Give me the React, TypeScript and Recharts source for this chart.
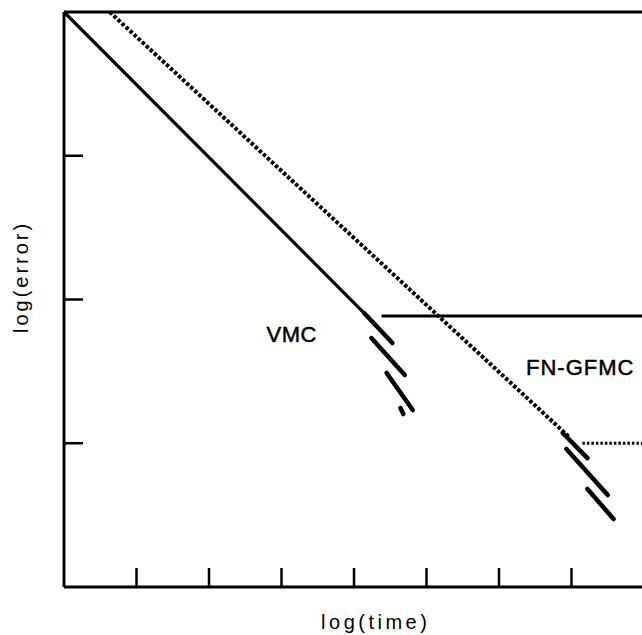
import React from 'react';
import { LineChart, Line, XAxis, YAxis, ReferenceLine, ReferenceDot } from 'recharts';

// axis ticks (log scale units, no labels in the original)
const xTicks = [1, 2, 3, 4, 5, 6, 7, 8];
const yTicks = [1, 2, 3];

// VMC: straight fall, then the floor it can't get below
const vmcLine = [[0, 4.0], [4.14, 1.906]];
const vmcPlateau = [[4.38, 1.885], [8.8, 1.885]];
const vmcTail = [
  [[4.14, 1.906], [4.53, 1.697]],
  [[4.24, 1.732], [4.70, 1.475]],
  [[4.45, 1.489], [4.81, 1.231]],
  [[4.64, 1.245], [4.68, 1.203]],
];

// FN-GFMC: dotted fall, then its own floor
const gfmcLine = [[0.63, 4.0], [6.97, 1.043]];
const gfmcPlateau = [[7.15, 1.0], [8.8, 1.0]];
const gfmcTail = [
  [[6.88, 1.071], [7.22, 0.897]],
  [[6.93, 0.96], [7.5, 0.64]],
  [[7.22, 0.682], [7.58, 0.473]],
];

const toPoints = (pairs: number[][]) => pairs.map(([x, y]) => ({ x, y }));
const toSegments = (segs: number[][][]) =>
  segs.flatMap((s) => [...toPoints(s), { x: s[1][0], y: null as number | null }]);

const font = "'Liberation Sans', Arial, sans-serif";
const ink = '#000';
// inward tick length, in axis units (~19px)
const xTickLen = 19 / 143.75;
const yTickLen = 19 / 72.5;

export default function App() {
  return (
    <div style={{ position: 'absolute', left: 0, top: 0, width: 642, height: 635, overflow: 'hidden', background: '#fff' }}>
      <LineChart width={702} height={635} margin={{ top: 12, right: 0, bottom: 48, left: 64 }}>
        <XAxis type="number" dataKey="x" domain={[0, 8.8]} ticks={xTicks} hide />
        <YAxis type="number" dataKey="y" domain={[0, 4]} ticks={yTicks} hide />

        {/* frame: left, bottom, top */}
        <ReferenceLine x={0} stroke={ink} strokeWidth={3} ifOverflow="visible" />
        <ReferenceLine y={0} stroke={ink} strokeWidth={3} ifOverflow="visible" />
        <ReferenceLine y={4} stroke={ink} strokeWidth={3} ifOverflow="visible" />
        {xTicks.map((t) => (
          <ReferenceLine key={`xt${t}`} segment={[{ x: t, y: 0 }, { x: t, y: xTickLen }]} stroke={ink} strokeWidth={2.5} ifOverflow="visible" />
        ))}
        {yTicks.map((t) => (
          <ReferenceLine key={`yt${t}`} segment={[{ x: 0, y: t }, { x: yTickLen, y: t }]} stroke={ink} strokeWidth={2.5} ifOverflow="visible" />
        ))}

        <Line data={toPoints(vmcLine)} dataKey="y" stroke={ink} strokeWidth={3.2} dot={false} activeDot={false} isAnimationActive={false} />
        <Line data={toPoints(vmcPlateau)} dataKey="y" stroke={ink} strokeWidth={3} dot={false} activeDot={false} isAnimationActive={false} />
        <Line data={toSegments(vmcTail)} dataKey="y" stroke={ink} strokeWidth={4.5} strokeLinecap="round" dot={false} activeDot={false} isAnimationActive={false} />

        <Line data={toPoints(gfmcLine)} dataKey="y" stroke={ink} strokeWidth={4} strokeDasharray="3.5 2" dot={false} activeDot={false} isAnimationActive={false} />
        <Line data={toPoints(gfmcPlateau)} dataKey="y" stroke={ink} strokeWidth={2.8} strokeDasharray="2.5 2" dot={false} activeDot={false} isAnimationActive={false} />
        <Line data={toSegments(gfmcTail)} dataKey="y" stroke={ink} strokeWidth={4.5} strokeLinecap="round" dot={false} activeDot={false} isAnimationActive={false} />

        <ReferenceDot x={3.14} y={1.76} r={0} fill="none" stroke="none" ifOverflow="visible"
          label={{ value: 'VMC', position: 'center', fontSize: 22, fill: ink, stroke: ink, strokeWidth: 0.5, fontFamily: font, letterSpacing: 0.5 }} />
        <ReferenceDot x={7.12} y={1.53} r={0} fill="none" stroke="none" ifOverflow="visible"
          label={{ value: 'FN-GFMC', position: 'center', fontSize: 22, fill: ink, stroke: ink, strokeWidth: 0.5, fontFamily: font, letterSpacing: 1 }} />
        <ReferenceDot x={4.3} y={-0.24} r={0} fill="none" stroke="none" ifOverflow="visible"
          label={{ value: 'log(time)', position: 'center', fontSize: 20, fill: ink, fontFamily: font, letterSpacing: 3.5 }} />
        <ReferenceDot x={-0.6} y={2.157} r={0} fill="none" stroke="none" ifOverflow="visible"
          label={{ value: 'log(error)', position: 'center', angle: -90, fontSize: 20, fill: ink, fontFamily: font, letterSpacing: 3 }} />
      </LineChart>
    </div>
  );
}
